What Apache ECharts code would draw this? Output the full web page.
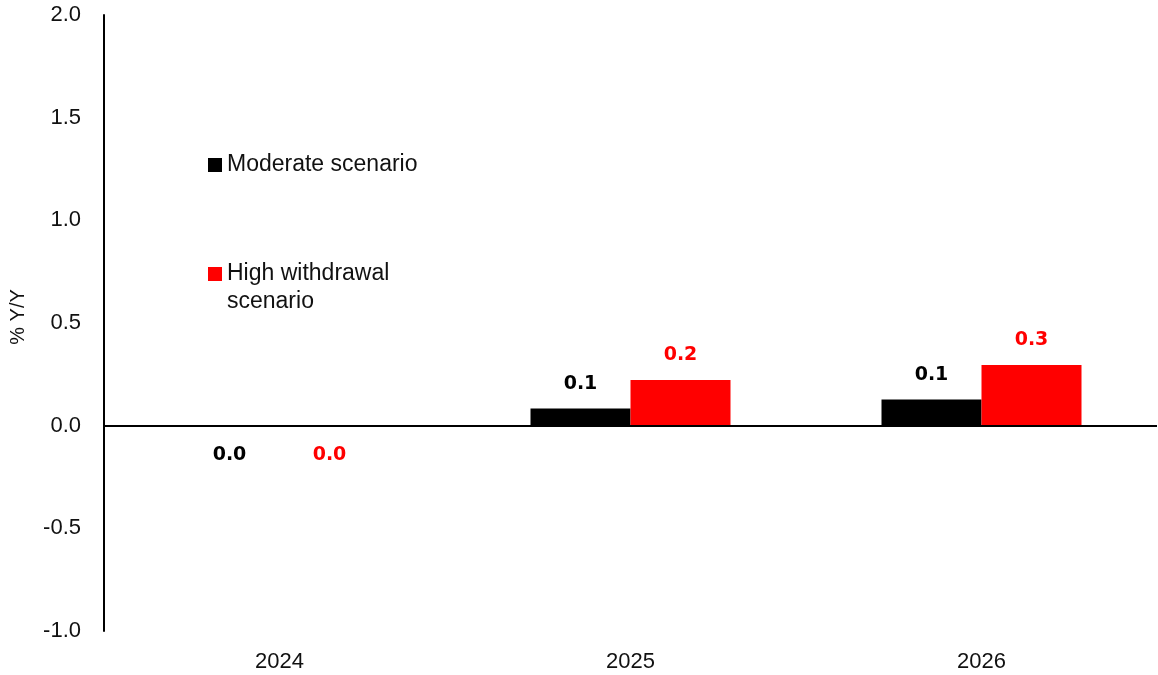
<!DOCTYPE html>
<html>
<head>
<meta charset="utf-8">
<script src="https://cdn.jsdelivr.net/npm/echarts@6/dist/echarts.min.js"></script>
<style>
  html, body { margin: 0; padding: 0; background: #ffffff; }
  #chart { width: 1158px; height: 675px; }
</style>
</head>
<body>
<div id="chart"></div>
<script>
// Annual change, % Y/Y, under two scenarios
const years = ['2024', '2025', '2026'];
const moderate = [-0.004, 0.083, 0.128];
const highWithdrawal = [-0.004, 0.223, 0.296];
const seriesNames = ['Moderate scenario', 'High withdrawal scenario'];
const yMin = -1.0, yMax = 2.0, yStep = 0.5;

const FONT = '"Liberation Sans", Arial, sans-serif';
const LABEL_FONT = '"DejaVu Sans", Verdana, sans-serif';

// one-decimal value label; avoids printing "-0.0"
function oneDecimal(v) {
  const r = Math.round(v * 10) / 10;
  return (r === 0 ? 0 : r).toFixed(1);
}

// labels sit above positive bars and below negative ones
function barData(values) {
  return values.map(v => ({
    value: v,
    label: v < 0 ? { position: 'bottom', distance: 19 } : { position: 'top', distance: 15 }
  }));
}

function barSeries(name, values, color) {
  return {
    name: name,
    type: 'bar',
    data: barData(values),
    barWidth: 100,
    barGap: '0%',
    itemStyle: { color: color },
    label: {
      show: true,
      color: color,
      fontFamily: LABEL_FONT,
      fontWeight: 'bold',
      fontSize: 19,
      formatter: p => oneDecimal(p.value)
    }
  };
}

const chart = echarts.init(document.getElementById('chart'), null, { renderer: 'canvas' });

const moderateSeries = barSeries(seriesNames[0], moderate, '#000000');
// horizontal zero line across the plot
moderateSeries.markLine = {
  silent: true,
  symbol: 'none',
  label: { show: false },
  lineStyle: { color: '#000000', width: 2, type: 'solid' },
  data: [{ yAxis: 0 }]
};

const legendText = { fontFamily: FONT, fontSize: 23, color: '#111111', lineHeight: 28 };

chart.setOption({
  animation: false,
  backgroundColor: '#ffffff',
  grid: { left: 103, right: 1, top: 15, bottom: 44, containLabel: false },
  legend: [
    {
      data: [seriesNames[0]],
      orient: 'vertical',
      left: 203,
      top: 146,
      selectedMode: false,
      icon: 'rect',
      itemWidth: 14,
      itemHeight: 14,
      textStyle: legendText
    },
    {
      data: [seriesNames[1]],
      orient: 'vertical',
      left: 203,
      top: 227,
      selectedMode: false,
      icon: 'rect',
      itemWidth: 14,
      itemHeight: 14,
      // leading blank line keeps the first text line level with the swatch
      formatter: () => '\nHigh withdrawal\nscenario',
      textStyle: legendText
    }
  ],
  xAxis: {
    type: 'category',
    data: years,
    axisLine: { show: false },
    axisTick: { show: false },
    axisLabel: { margin: 20, fontFamily: FONT, fontSize: 22, color: '#111111' },
    splitLine: { show: false }
  },
  yAxis: {
    type: 'value',
    min: yMin,
    max: yMax,
    interval: yStep,
    name: '% Y/Y',
    nameLocation: 'middle',
    nameGap: 76,
    nameTextStyle: { fontFamily: FONT, fontSize: 20, color: '#111111', padding: [0, 0, 0, 12] },
    axisLine: { show: true, onZero: false, lineStyle: { color: '#000000', width: 2 } },
    axisTick: { show: false },
    splitLine: { show: false },
    axisLabel: {
      margin: 23,
      fontFamily: FONT,
      fontSize: 22,
      color: '#111111',
      formatter: v => v.toFixed(1)
    }
  },
  series: [
    moderateSeries,
    barSeries(seriesNames[1], highWithdrawal, '#ff0000')
  ]
});
</script>
</body>
</html>
